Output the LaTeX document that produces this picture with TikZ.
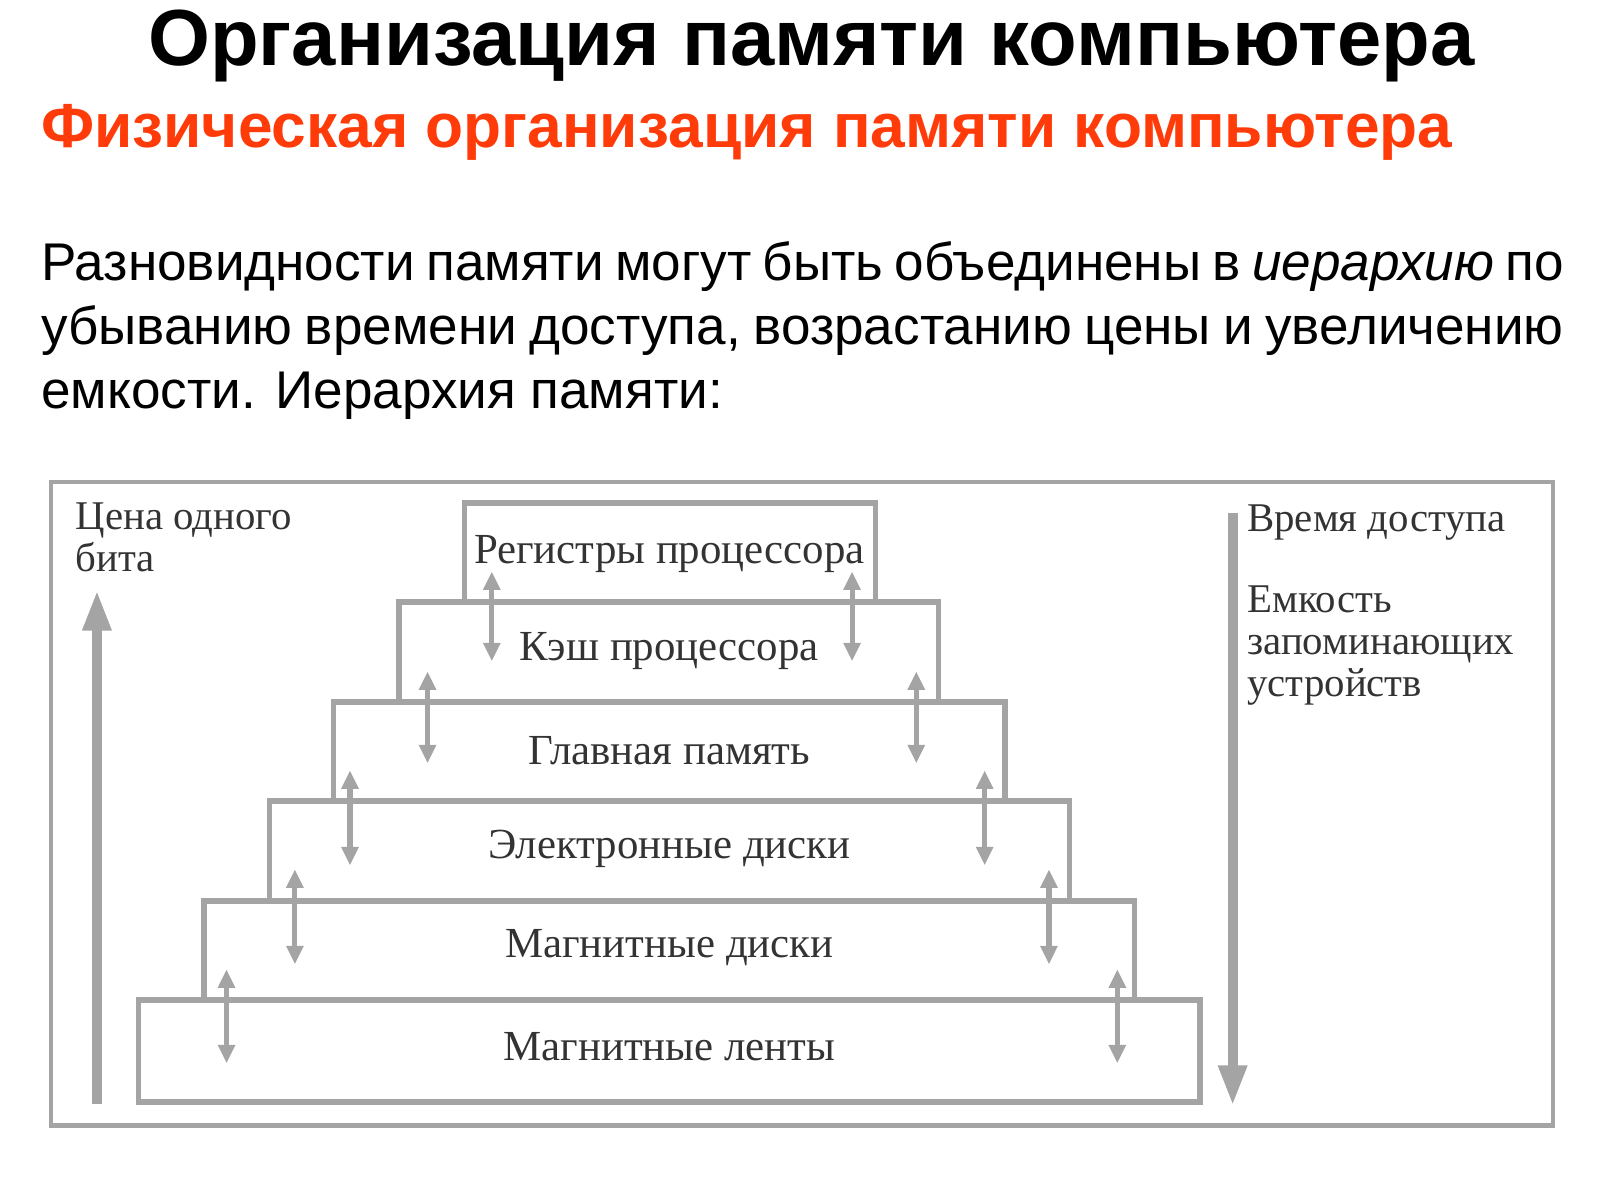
\documentclass[tikz,border=0pt]{standalone}
\usepackage{fontspec}
\setmainfont{Liberation Sans}
\newfontfamily\serifx{Liberation Serif}
\usetikzlibrary{arrows.meta}
\definecolor{gr}{HTML}{A4A4A4}
\definecolor{tx}{HTML}{333333}
\definecolor{rd}{HTML}{FF3B0A}
\begin{document}
\begin{tikzpicture}[x=0.5pt,y=-0.5pt,
  stepbox/.style={draw=gr,line width=2.6pt},
  lab/.style={font=\serifx\fontsize{21}{21}\selectfont,text=tx},
  side/.style={font=\serifx\fontsize{20}{20.5}\selectfont,text=tx,align=left,anchor=north west,inner sep=0},
  dbl/.style={draw=gr,line width=2.5pt,{Triangle[length=9pt,width=8pt]}-{Triangle[length=9pt,width=8pt]}},
  big/.style={draw=gr,line width=5pt,-{Triangle[length=20pt,width=13pt]}}]
\useasboundingbox (0,0) rectangle (1568,1176);
\node[font=\bfseries\fontsize{39}{39}\selectfont] (title) at (795,45) {Организация памяти компьютера};
\node[font=\bfseries\fontsize{30.5}{30.5}\selectfont,text=rd,anchor=west,inner sep=0] (sub) at (40,130) {Физическая организация памяти компьютера};
\node[anchor=north west,inner sep=0,text width=746pt,align=justify,font=\fontsize{26}{31.5}\selectfont] (par) at (40,236)
 {Разновидности памяти могут быть объединены в \textit{иерархию} по убыванию времени доступа, возрастанию цены и увеличению емкости. Иерархия памяти:};
\draw[draw=gr,line width=2pt] (50,472) rectangle (1522,1103);
\draw[stepbox] (455,493) rectangle (858,590);
\draw[stepbox] (391,590) rectangle (920,688);
\draw[stepbox] (327,688) rectangle (985,785);
\draw[stepbox] (264,785) rectangle (1048,883);
\draw[stepbox] (200,883) rectangle (1112,980);
\draw[stepbox] (136,980) rectangle (1176,1080);
\node[lab] (b1) at (656,543) {Регистры процессора};
\node[lab] (b2) at (656,638) {Кэш процессора};
\node[lab] (b3) at (656,736) {Главная память};
\node[lab] (b4) at (656,832) {Электронные диски};
\node[lab] (b5) at (656,929) {Магнитные диски};
\node[lab] (b6) at (656,1026) {Магнитные ленты};
\foreach \xa/\xb/\ya/\yb in {482/835/560/648, 419/898/658/748, 343/965/755/848, 289/1028/852/945, 222/1095/950/1042}{
  \coordinate (la) at (\xa,\ya); \coordinate (lb) at (\xa,\yb);
  \coordinate (ra) at (\xb,\ya); \coordinate (rb) at (\xb,\yb);
  \draw[dbl] (la) -- (lb); \draw[dbl] (ra) -- (rb);}
\coordinate (u0) at (95,1082); \coordinate (u1) at (95,578);
\draw[big] (u0) -- (u1);
\coordinate (d0) at (1208,503); \coordinate (d1) at (1208,1084);
\draw[big] (d0) -- (d1);
\node[side] (price) at (74,492) {Цена одного\\бита};
\node[side] (time) at (1222,494) {Время доступа};
\node[side] (cap) at (1222,574) {Емкость\\запоминающих\\устройств};
\end{tikzpicture}
\end{document}
